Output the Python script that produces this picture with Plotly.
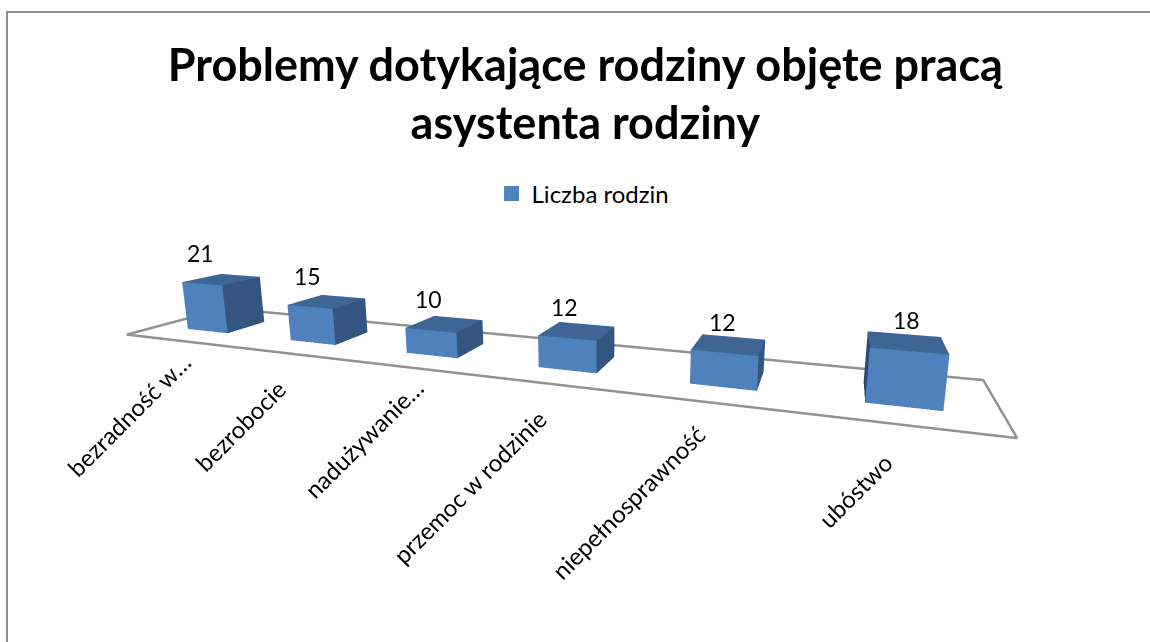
import plotly.graph_objects as go

TITLE = "Problemy dotykające rodziny objęte pracą<br>asystenta rodziny"
SERIES = "Liczba rodzin"
categories = ["bezradność w…", "bezrobocie", "nadużywanie…", "przemoc w rodzinie", "niepełnosprawność", "ubóstwo"]
values = [21, 15, 10, 12, 12, 18]

# layout only: pixel nudges of the rotated category labels
label_dx = [23, 9, 23, 4, -2, -7]
label_dy = [-4, -18, -3, -17, -14, -19]

FRONT, SIDE, TOP = "#4F81BD", "#335580", "#3E6594"
BAR_HALF = 0.2
Z_MAX = 25

xs, ys, zs, ii, jj, kk, fc = [], [], [], [], [], [], []
def quad(a, b, c, d, col):
    n = len(xs)
    for p in (a, b, c, d):
        xs.append(p[0]); ys.append(p[1]); zs.append(p[2])
    ii.extend([n, n]); jj.extend([n + 1, n + 2]); kk.extend([n + 2, n + 3]); fc.extend([col, col])

for n, v in enumerate(values):
    c = n + 0.5
    x0, x1 = c - BAR_HALF, c + BAR_HALF
    y0, y1 = 0.5 - BAR_HALF, 0.5 + BAR_HALF
    quad((x0, y0, 0), (x1, y0, 0), (x1, y0, v), (x0, y0, v), FRONT)
    quad((x0, y0, v), (x1, y0, v), (x1, y1, v), (x0, y1, v), TOP)
    quad((x1, y0, 0), (x1, y1, 0), (x1, y1, v), (x1, y0, v), SIDE)
    quad((x0, y0, 0), (x0, y1, 0), (x0, y1, v), (x0, y0, v), "#2B4A70")

fig = go.Figure()
fig.add_trace(go.Mesh3d(x=xs, y=ys, z=zs, i=ii, j=jj, k=kk, facecolor=fc, flatshading=True,
                        lighting=dict(ambient=1, diffuse=0, specular=0, roughness=1, fresnel=0),
                        showscale=False, hoverinfo="skip", showlegend=False))
n_cat = len(categories)
fig.add_trace(go.Scatter3d(x=[0, n_cat, n_cat, 0, 0], y=[0, 0, 1, 1, 0], z=[0] * 5, mode="lines",
                           line=dict(color="#929292", width=5), showlegend=False, hoverinfo="skip"))
fig.add_trace(go.Scatter3d(x=[None], y=[None], z=[None], mode="markers", name=SERIES,
                           marker=dict(symbol="square", size=15, color=FRONT), showlegend=True))

anns = []
for n, (cat, v) in enumerate(zip(categories, values)):
    anns.append(dict(x=n + 0.5, y=0.3, z=v, text=str(v), showarrow=False, yshift=31, xshift=-2,
                     font=dict(family="Lato", size=23, color="#000")))
    anns.append(dict(x=n + 0.5, y=0, z=0, text=cat, showarrow=False, textangle=-45,
                     xanchor="right", yanchor="top", yshift=label_dy[n], xshift=label_dx[n],
                     font=dict(family="Lato", size=24, color="#000")))

ax = dict(visible=False)
fig.update_layout(
    width=1150, height=642, margin=dict(l=0, r=0, t=0, b=0),
    paper_bgcolor="white", showlegend=True,
    title=dict(text=TITLE, x=0.509, xanchor="center", y=0.874, yanchor="top",
               font=dict(family="Lato", size=45, color="#000", weight="bold")),
    legend=dict(x=0.507, xanchor="center", y=0.733, yanchor="top", orientation="h",
                font=dict(family="Lato", size=24, color="#000"), itemclick=False),
    scene=dict(
        domain=dict(x=[42 / 1150, 1], y=[54 / 642, 1]),
        xaxis=dict(ax, range=[0, n_cat]), yaxis=dict(ax, range=[0, 1]), zaxis=dict(ax, range=[0, Z_MAX]),
        aspectmode="manual", aspectratio=dict(x=4.19, y=0.65, z=0.3125),
        camera=dict(eye=dict(x=1.461, y=-2.975, z=0.844), center=dict(x=0.519, y=-0.227, z=0.226),
                    up=dict(x=0, y=0, z=1), projection=dict(type="perspective")),
        annotations=anns,
    ),
    shapes=[
        dict(type="line", xref="paper", yref="paper", x0=7 / 1150, x1=7 / 1150, y0=0, y1=630 / 642,
             line=dict(color="#8F8F8F", width=2)),
        dict(type="line", xref="paper", yref="paper", x0=6 / 1150, x1=1, y0=630 / 642, y1=630 / 642,
             line=dict(color="#8F8F8F", width=2)),
    ],
)
fig.write_html("out.html", config=dict(displayModeBar=False), post_script="document.body.style.margin='0';")
